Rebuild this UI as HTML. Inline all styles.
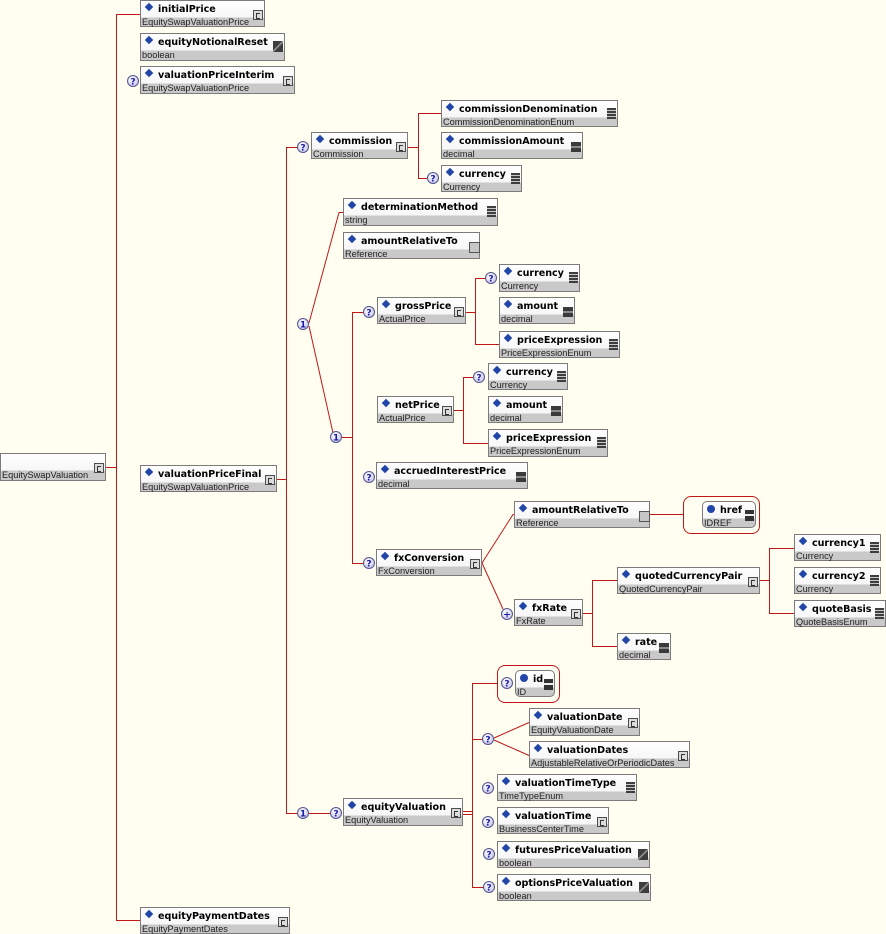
<!DOCTYPE html>
<html><head><meta charset="utf-8">
<style>
html,body{margin:0;padding:0}
body{width:886px;height:934px;background:#fffef0;position:relative;overflow:hidden;font-family:"DejaVu Sans",sans-serif}
svg.ln{position:absolute;left:0;top:0}
.b{position:absolute;box-sizing:border-box;border:1px solid #7b7b7b;background:linear-gradient(#fefefe 0,#f7f7f7 16px,#c9c9c9 17px,#c9c9c9 100%)}
.a{border-radius:5px}
.n{position:absolute;left:17px;top:1.5px;font:bold 9.6px/13px "DejaVu Sans",sans-serif;letter-spacing:-0.05px;color:#000;white-space:nowrap}
.t{position:absolute;left:1px;top:16px;font:9.2px/10px "Liberation Sans",sans-serif;color:#1e1e1e;white-space:nowrap}
.d{position:absolute;left:5px;top:3px;width:6px;height:6px;background:#2246a8;transform:rotate(45deg)}
.o{position:absolute;left:4px;top:3px;width:8px;height:8px;border-radius:50%;background:#2246a8}
.ic{position:absolute;box-sizing:border-box}
.C{right:1px;top:9px;width:10px;height:10px;border:1px solid #4d4d4d;background:#dcdcdc}
.C::after{content:"";position:absolute;left:2px;top:2px;width:3px;height:4px;border:1px solid #333;border-right:0}
.E{right:1px;top:7px;width:9px;height:11px;background:repeating-linear-gradient(#3e3e3e 0 2px,#c8c8c8 2px 3px)}
.N{right:1px;top:9px;width:10px;height:10px;background:linear-gradient(#3a3a3a 0 4px,#8a8a8a 4px 6px,#3a3a3a 6px)}
.B{right:1px;top:7px;width:10px;height:11px;background:linear-gradient(135deg,#3d3d3d 0 45%,#8a8a8a 45% 55%,#3d3d3d 55%)}
.R{right:-1px;top:9px;width:11px;height:11px;border:1px solid #555;background:#c6c6c6}
.I{right:1px;top:8px;width:9px;height:11px;background:linear-gradient(#333 0 4px,#eee 4px 6px,#333 6px)}
.rr{position:absolute;box-sizing:border-box;border:1px solid #c01818;border-radius:8px}
</style></head><body>

<svg class="ln" width="886" height="934" viewBox="0 0 886 934">
<defs>
<radialGradient id="g" cx="40%" cy="35%" r="70%"><stop offset="0" stop-color="#ffffff"/><stop offset="1" stop-color="#c4c4ec"/></radialGradient>
</defs>
<path fill="none" stroke="#c01818" stroke-width="1" d="
M106 467.5H116.5 M116.5 14V921 M116.5 14.5H140 M116.5 920.5H140
M277 479.5H286.5 M286.5 147V814 M286.5 147.5H298 M286.5 813.5H298 M309 813.5H331
M408 147.5H418.5 M418.5 113V179 M418.5 113.5H441 M418.5 178.5H428
M309 323L339 212.5H343 M309 326L333 433
M342 437.5H352.5 M352.5 312V564 M352.5 312.5H364 M352.5 563.5H364
M466 312.5H475.5 M475.5 278V345 M475.5 278.5H486 M475.5 344.5H499
M454 410.5H463.5 M463.5 377V444 M463.5 377.5H474 M463.5 443.5H488
M482 563L513 514.5H514 M482 563L503 609 M650 514.5H683
M583 613.5H592.5 M592.5 580V647 M592.5 580.5H617 M592.5 646.5H617
M760 580.5H769.5 M769.5 548V614 M769.5 548.5H794 M769.5 613.5H794
M463 811.5H472.5 M463 814.5H472.5 M472.5 683V888 M472.5 683.5H497 M472.5 739.5H483 M472.5 887.5H484
M494 738L529 722.5 M494 740L529 755.5
"/>
<g stroke="#54548c" stroke-width="1" fill="url(#g)">
<circle cx="133" cy="81" r="5.5"/><circle cx="303" cy="147" r="5.5"/><circle cx="433" cy="178" r="5.5"/>
<circle cx="369" cy="312" r="5.5"/><circle cx="491" cy="278" r="5.5"/><circle cx="479" cy="377" r="5.5"/>
<circle cx="369" cy="477" r="5.5"/><circle cx="369" cy="563" r="5.5"/><circle cx="336" cy="813" r="5.5"/>
<circle cx="507" cy="683" r="5.5"/><circle cx="488" cy="739" r="5.5"/><circle cx="488" cy="788" r="5.5"/>
<circle cx="488" cy="822" r="5.5"/><circle cx="489" cy="854" r="5.5"/><circle cx="489" cy="887" r="5.5"/>
<circle cx="303" cy="324" r="5.5"/><circle cx="336" cy="437" r="5.5"/><circle cx="303" cy="813" r="5.5"/>
<circle cx="507" cy="614" r="5.5"/>
</g>
<g font-family="DejaVu Sans, sans-serif" font-weight="bold" font-size="9" fill="#1a1aa8" text-anchor="middle">
<text x="133" y="84.3">?</text><text x="303" y="150.3">?</text><text x="433" y="181.3">?</text>
<text x="369" y="315.3">?</text><text x="491" y="281.3">?</text><text x="479" y="380.3">?</text>
<text x="369" y="480.3">?</text><text x="369" y="566.3">?</text><text x="336" y="816.3">?</text>
<text x="507" y="686.3">?</text><text x="488" y="742.3">?</text><text x="488" y="791.3">?</text>
<text x="488" y="825.3">?</text><text x="489" y="857.3">?</text><text x="489" y="890.3">?</text>
<text x="303" y="327.3">1</text><text x="336" y="440.3">1</text><text x="303" y="816.3">1</text>
<text x="507" y="617.5">+</text>
</g>
</svg>

<div class="rr" style="left:683px;top:496px;width:77px;height:38px"></div>
<div class="rr" style="left:497px;top:665px;width:63px;height:38px"></div>

<div class="b" style="left:0;top:453px;width:106px;height:28px"><span class="t">EquitySwapValuation</span><span class="ic C"></span></div>

<div class="b" style="left:140px;top:0;width:125px;height:27px"><i class="d"></i><span class="n">initialPrice</span><span class="t">EquitySwapValuationPrice</span><span class="ic C"></span></div>
<div class="b" style="left:140px;top:33px;width:145px;height:28px"><i class="d"></i><span class="n">equityNotionalReset</span><span class="t">boolean</span><span class="ic B"></span></div>
<div class="b" style="left:140px;top:66px;width:155px;height:28px"><i class="d"></i><span class="n">valuationPriceInterim</span><span class="t">EquitySwapValuationPrice</span><span class="ic C"></span></div>
<div class="b" style="left:140px;top:465px;width:137px;height:27px"><i class="d"></i><span class="n">valuationPriceFinal</span><span class="t">EquitySwapValuationPrice</span><span class="ic C"></span></div>
<div class="b" style="left:140px;top:907px;width:150px;height:27px"><i class="d"></i><span class="n">equityPaymentDates</span><span class="t">EquityPaymentDates</span><span class="ic C"></span></div>

<div class="b" style="left:311px;top:132px;width:97px;height:27px"><i class="d"></i><span class="n">commission</span><span class="t">Commission</span><span class="ic C"></span></div>
<div class="b" style="left:441px;top:100px;width:177px;height:27px"><i class="d"></i><span class="n">commissionDenomination</span><span class="t">CommissionDenominationEnum</span><span class="ic E"></span></div>
<div class="b" style="left:441px;top:132px;width:142px;height:27px"><i class="d"></i><span class="n">commissionAmount</span><span class="t">decimal</span><span class="ic N"></span></div>
<div class="b" style="left:441px;top:165px;width:81px;height:27px"><i class="d"></i><span class="n">currency</span><span class="t">Currency</span><span class="ic E"></span></div>

<div class="b" style="left:343px;top:198px;width:155px;height:28px"><i class="d"></i><span class="n">determinationMethod</span><span class="t">string</span><span class="ic E"></span></div>
<div class="b" style="left:343px;top:232px;width:137px;height:27px"><i class="d"></i><span class="n">amountRelativeTo</span><span class="t">Reference</span><span class="ic R"></span></div>

<div class="b" style="left:377px;top:297px;width:89px;height:27px"><i class="d"></i><span class="n">grossPrice</span><span class="t">ActualPrice</span><span class="ic C"></span></div>
<div class="b" style="left:499px;top:264px;width:81px;height:28px"><i class="d"></i><span class="n">currency</span><span class="t">Currency</span><span class="ic E"></span></div>
<div class="b" style="left:499px;top:297px;width:76px;height:27px"><i class="d"></i><span class="n">amount</span><span class="t">decimal</span><span class="ic N"></span></div>
<div class="b" style="left:499px;top:331px;width:121px;height:27px"><i class="d"></i><span class="n">priceExpression</span><span class="t">PriceExpressionEnum</span><span class="ic E"></span></div>

<div class="b" style="left:377px;top:396px;width:77px;height:27px"><i class="d"></i><span class="n">netPrice</span><span class="t">ActualPrice</span><span class="ic C"></span></div>
<div class="b" style="left:488px;top:363px;width:80px;height:27px"><i class="d"></i><span class="n">currency</span><span class="t">Currency</span><span class="ic E"></span></div>
<div class="b" style="left:488px;top:396px;width:75px;height:27px"><i class="d"></i><span class="n">amount</span><span class="t">decimal</span><span class="ic N"></span></div>
<div class="b" style="left:488px;top:429px;width:120px;height:28px"><i class="d"></i><span class="n">priceExpression</span><span class="t">PriceExpressionEnum</span><span class="ic E"></span></div>

<div class="b" style="left:376px;top:462px;width:152px;height:27px"><i class="d"></i><span class="n">accruedInterestPrice</span><span class="t">decimal</span><span class="ic N"></span></div>
<div class="b" style="left:376px;top:549px;width:106px;height:27px"><i class="d"></i><span class="n">fxConversion</span><span class="t">FxConversion</span><span class="ic C"></span></div>
<div class="b" style="left:514px;top:501px;width:136px;height:27px"><i class="d"></i><span class="n">amountRelativeTo</span><span class="t">Reference</span><span class="ic R"></span></div>
<div class="b a" style="left:702px;top:501px;width:54px;height:27px"><i class="o"></i><span class="n">href</span><span class="t">IDREF</span><span class="ic I"></span></div>
<div class="b" style="left:514px;top:599px;width:69px;height:27px"><i class="d"></i><span class="n">fxRate</span><span class="t">FxRate</span><span class="ic C"></span></div>
<div class="b" style="left:617px;top:567px;width:143px;height:27px"><i class="d"></i><span class="n">quotedCurrencyPair</span><span class="t">QuotedCurrencyPair</span><span class="ic C"></span></div>
<div class="b" style="left:617px;top:633px;width:54px;height:27px"><i class="d"></i><span class="n">rate</span><span class="t">decimal</span><span class="ic N"></span></div>
<div class="b" style="left:794px;top:534px;width:87px;height:27px"><i class="d"></i><span class="n">currency1</span><span class="t">Currency</span><span class="ic E"></span></div>
<div class="b" style="left:794px;top:567px;width:87px;height:27px"><i class="d"></i><span class="n">currency2</span><span class="t">Currency</span><span class="ic E"></span></div>
<div class="b" style="left:794px;top:600px;width:92px;height:27px"><i class="d"></i><span class="n">quoteBasis</span><span class="t">QuoteBasisEnum</span><span class="ic E"></span></div>

<div class="b" style="left:343px;top:798px;width:120px;height:28px"><i class="d"></i><span class="n">equityValuation</span><span class="t">EquityValuation</span><span class="ic C"></span></div>
<div class="b a" style="left:515px;top:670px;width:40px;height:27px"><i class="o"></i><span class="n">id</span><span class="t">ID</span><span class="ic I"></span></div>
<div class="b" style="left:529px;top:708px;width:111px;height:28px"><i class="d"></i><span class="n">valuationDate</span><span class="t">EquityValuationDate</span><span class="ic C"></span></div>
<div class="b" style="left:529px;top:741px;width:161px;height:27px"><i class="d"></i><span class="n">valuationDates</span><span class="t">AdjustableRelativeOrPeriodicDates</span><span class="ic C"></span></div>
<div class="b" style="left:497px;top:774px;width:140px;height:27px"><i class="d"></i><span class="n">valuationTimeType</span><span class="t">TimeTypeEnum</span><span class="ic E"></span></div>
<div class="b" style="left:497px;top:807px;width:112px;height:27px"><i class="d"></i><span class="n">valuationTime</span><span class="t">BusinessCenterTime</span><span class="ic C"></span></div>
<div class="b" style="left:497px;top:841px;width:153px;height:27px"><i class="d"></i><span class="n">futuresPriceValuation</span><span class="t">boolean</span><span class="ic B"></span></div>
<div class="b" style="left:497px;top:874px;width:154px;height:27px"><i class="d"></i><span class="n">optionsPriceValuation</span><span class="t">boolean</span><span class="ic B"></span></div>

</body></html>
